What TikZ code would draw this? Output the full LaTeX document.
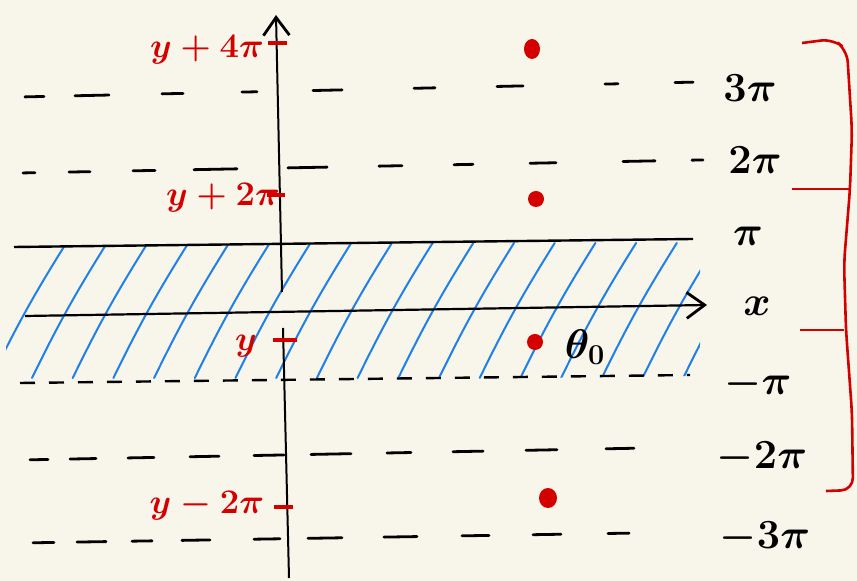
\documentclass[tikz,border=0pt]{standalone}
\usepackage{amsmath,amssymb}
\usepackage{xcolor}
\usepackage{tikz}
\usetikzlibrary{arrows.meta,calc}
\definecolor{paper}{RGB}{248,245,234}
\definecolor{mkred}{RGB}{212,0,0}
\definecolor{hatchc}{RGB}{30,128,232}
% one row of loose hand dashes: left y, right y, list of x ranges
\newcommand{\dashrow}[3]{\foreach \a/\b in {#3} {\draw[dsh] (\a,{#1+(#2-#1)*(\a-20)/680}) -- (\b,{#1+(#2-#1)*(\b-20)/680});}}

\begin{document}
\begin{tikzpicture}[x=0.5pt,y=-0.5pt,>={Straight Barb[length=9pt,width=13pt,line width=1.4pt]},
  lbl/.style={font=\fontsize{20}{22}\selectfont\boldmath},
  rlbl/.style={text=mkred,font=\fontsize{17}{19}\selectfont\boldmath},
  dsh/.style={line width=1.4pt,line cap=round}]
  \useasboundingbox (0,0) rectangle (857,581);
  \fill[paper] (0,0) rectangle (857,581);
  % hatched strip between -pi and pi
  \begin{scope}
    \clip (6,247) -- (700,239) -- (700,376) -- (6,384) -- cycle;
    \foreach \k in {-1,...,16} {
      \pgfmathsetmacro{\hx}{32+40.7*\k}
      \draw[hatchc,line width=1pt,line cap=round] (\hx,378) to[bend left=3] (\hx+75,243);
    }
  \end{scope}
  % strip edges and x axis
  \coordinate (pil) at (14,247); \coordinate (pir) at (693,239);
  \coordinate (mpil) at (20,383); \coordinate (mpir) at (690,375);
  \coordinate (xl) at (25,316); \coordinate (xr) at (707,305);
  \draw[line width=1.2pt] (pil) -- (pir);
  \draw[line width=1.2pt,dash pattern=on 7.5pt off 7pt] (mpil) -- (mpir);
  \draw[->,line width=1.1pt] (xl) -- (xr);
  % y axis (broken where it meets the x axis)
  \coordinate (yb) at (289,578); \coordinate (ym) at (283,328);
  \coordinate (yn) at (282,292); \coordinate (yt) at (276,15);
  \draw[line width=1pt] (yb) -- (ym);
  \draw[->,line width=1pt] (yn) -- (yt);
  % the other multiples of pi
  \dashrow{97}{82}{25/44,75/109,162/183,242/257,313/342,414/435,497/523,605/618,675/693}
  \dashrow{173}{160}{23/35,69/90,133/155,194/237,288/327,379/402,454/473,530/556,623/655,692/703}
  \dashrow{460}{447}{30/48,70/96,128/154,190/219,254/284,311/351,387/411,453/483,526/557,606/634}
  \dashrow{543}{532}{33/54,77/106,132/152,182/210,254/280,308/342,384/417,462/489,533/561,608/629}
  \node[lbl] (l3pi) at (750,88) {$3\pi$};
  \node[lbl] (l2pi) at (755,160) {$2\pi$};
  \node[lbl] (lpi) at (748,236) {$\pi$};
  \node[lbl] (lx) at (757,306) {$x$};
  \node[lbl] (lmpi) at (758,384) {$-\pi$};
  \node[lbl] (lm2pi) at (762,458) {$-2\pi$};
  \node[lbl] (lm3pi) at (765,538) {$-3\pi$};
  % red marks on the axis
  \foreach \ty/\xa/\xb in {43/268/287,195/267/285,340/273/297,507/274/293}
    \draw[mkred,line width=1.6pt] (\xa,\ty) -- (\xb,\ty);
  \node[rlbl] (ry4) at (207,50) {$y+4\pi$};
  \node[rlbl] (ry2) at (223,198) {$y+2\pi$};
  \node[rlbl] (ry0) at (246,346) {$y$};
  \node[rlbl] (rym2) at (207,506) {$y-2\pi$};
  % points
  \fill[mkred] (532,49) ellipse (8 and 10);
  \fill[mkred] (536,199) circle (8);
  \fill[mkred] (535,342) circle (8);
  \fill[mkred] (548,498) ellipse (9 and 10);
  \node[lbl] (theta) at (585,347) {$\theta_0$};
  % red brace on the right
  \draw[mkred,line width=1.3pt,rounded corners=6pt] (802,43) -- (833,39) -- (847,50) -- (852,130) -- (850,189)
    -- (844,263) -- (846,330) -- (852,413) -- (853,490) -- (826,491);
  \draw[mkred,line width=1.3pt] (792,189) -- (850,189);
  \draw[mkred,line width=1.3pt] (800,330) -- (844,330);
\end{tikzpicture}
\end{document}
